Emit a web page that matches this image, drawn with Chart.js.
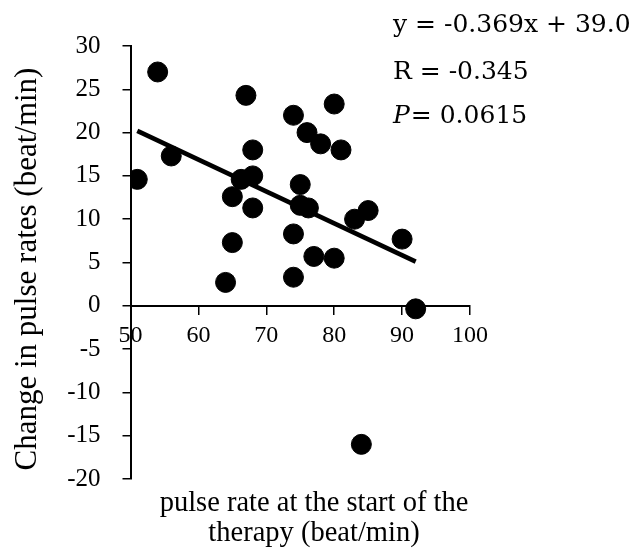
<!DOCTYPE html>
<html>
<head>
<meta charset="utf-8">
<style>
  html, body { margin: 0; padding: 0; background: #fff; }
  #wrap { width: 638px; height: 554px; position: relative; }
</style>
<script src="https://cdn.jsdelivr.net/npm/chart.js@4"></script>
</head>
<body>
<div id="wrap"><canvas id="chart" width="638" height="554"></canvas></div>
<script>
// pulse rate at start (x) vs change in pulse rate (y)
const pulseStart = [51, 54, 56, 64, 65, 65, 66.3, 67, 68, 68, 68, 74, 74, 74, 75, 75, 76, 76.2, 77, 78, 80, 80, 81, 83, 85, 90, 92, 84];
const pulseChange = [14.6, 27, 17.3, 2.7, 7.3, 12.6, 14.6, 24.3, 18, 15, 11.3, 22, 8.3, 3.3, 14, 11.6, 20, 11.3, 5.7, 18.7, 23.3, 5.5, 18, 10, 11, 7.7, -0.35, -16];

// regression line end points
const trendX = [51, 92];
const trendY = [20.2, 5.1];

const xTicks = [50, 60, 70, 80, 90, 100];
const yTicks = [30, 25, 20, 15, 10, 5, 0, -5, -10, -15, -20];

const statLines = ["y = -0.369x + 39.0", "R = -0.345", "= 0.0615"];
const yTitle = "Change in pulse rates (beat/min)";
const xTitle = ["pulse rate at the start of the", "therapy (beat/min)"];

const SERIF = "'Liberation Serif', 'Times New Roman', serif";
const STAT_FONT = "'DejaVu Serif', serif";

const textPlugin = {
    id: "texts",
    afterDraw(chart) {
        const ctx = chart.ctx;
        ctx.save();
        ctx.fillStyle = "#000";

        // y axis title
        ctx.save();
        ctx.translate(28, 269);
        ctx.rotate(-Math.PI / 2);
        ctx.font = "31px " + SERIF;
        ctx.textAlign = "center";
        ctx.textBaseline = "middle";
        ctx.fillText(yTitle, 0, 0);
        ctx.restore();

        // x axis title
        ctx.font = "28.5px " + SERIF;
        ctx.textAlign = "center";
        ctx.textBaseline = "alphabetic";
        ctx.fillText(xTitle[0], 314, 511);
        ctx.fillText(xTitle[1], 314, 541);

        // regression stats
        ctx.textAlign = "left";
        ctx.font = "25px " + STAT_FONT;
        ctx.fillText(statLines[0], 393, 32);
        ctx.fillText(statLines[1], 393, 79);
        ctx.font = "italic 25px " + STAT_FONT;
        ctx.fillText("P", 393, 123);
        const pw = ctx.measureText("P").width;
        ctx.font = "25px " + STAT_FONT;
        ctx.fillText(statLines[2], 393 + pw + 1, 123);
        ctx.restore();
    }
};

new Chart(document.getElementById("chart"), {
    type: "scatter",
    data: {
        datasets: [
            {
                label: "patients",
                data: pulseStart.map((x, i) => ({ x: x, y: pulseChange[i] })),
                backgroundColor: "#000",
                borderColor: "#000",
                pointRadius: 10,
                pointHoverRadius: 10,
                order: 1
            },
            {
                label: "trend",
                type: "line",
                data: trendX.map((x, i) => ({ x: x, y: trendY[i] })),
                borderColor: "#000",
                borderWidth: 4.5,
                pointRadius: 0,
                fill: false,
                order: 2
            }
        ]
    },
    options: {
        responsive: false,
        animation: false,
        events: [],
        layout: { padding: { top: 46, right: 168, bottom: 75, left: 0 } },
        plugins: {
            legend: { display: false },
            tooltip: { enabled: false }
        },
        scales: {
            x: {
                type: "linear",
                position: { y: 0 },
                min: 50,
                max: 100,
                afterBuildTicks: (scale) => { scale.ticks = xTicks.map(v => ({ value: v })); },
                afterFit: (scale) => { scale.height = 0; },
                border: { display: true, color: "#000", width: 2 },
                grid: { drawOnChartArea: false, drawTicks: true, tickLength: 8, color: "#000", lineWidth: 1.5 },
                ticks: { color: "#000", padding: 8, font: { family: SERIF, size: 24 } }
            },
            y: {
                type: "linear",
                min: -20,
                max: 30,
                afterBuildTicks: (scale) => { scale.ticks = yTicks.map(v => ({ value: v })); },
                afterFit: (scale) => { scale.width = 130.5; },
                border: { display: true, color: "#000", width: 2 },
                grid: { drawOnChartArea: false, drawTicks: true, tickLength: 8, color: "#000", lineWidth: 1.5 },
                ticks: { color: "#000", padding: 22, font: { family: SERIF, size: 25 } }
            }
        }
    },
    plugins: [textPlugin]
});
</script>
</body>
</html>
